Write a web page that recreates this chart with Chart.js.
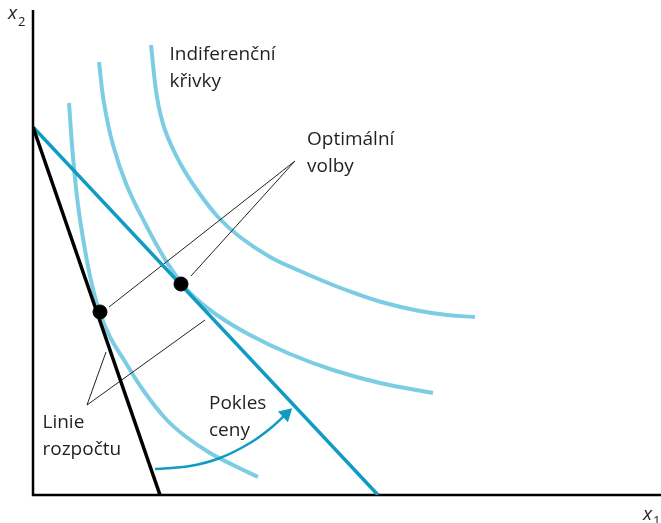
<!DOCTYPE html>
<html>
<head>
<meta charset="utf-8">
<script src="https://cdn.jsdelivr.net/npm/chart.js@4.4.0/dist/chart.umd.min.js"></script>
<style>
  html, body { margin: 0; padding: 0; background: #fff; }
  #wrap { width: 661px; height: 523px; }
</style>
</head>
<body>
<div id="wrap"><canvas id="grafica" width="661" height="523"></canvas></div>
<script>
// indiferenční křivky [x1, x2]
const krivka1 = [[3.6, 39.2], [4.0, 33.8], [4.5, 29.0], [5.2, 24.5], [5.9, 21.0], [6.65, 18.3], [7.7, 15.8], [9.1, 13.5], [11.0, 10.5], [13.2, 7.7], [15.2, 5.9], [17.7, 4.2], [20.0, 3.0], [22.5, 1.8]];
const krivka2 = [[6.6, 43.3], [7.1, 39.2], [8.0, 35.0], [9.4, 30.9], [11.3, 27.0], [13.5, 23.1], [15.7, 20.2], [18.4, 18.0], [21.7, 16.0], [25.7, 14.1], [30.0, 12.5], [34.7, 11.2], [40.0, 10.2]];
const krivka3 = [[11.8, 45.0], [12.4, 39.8], [13.2, 36.5], [14.7, 33.2], [16.4, 30.5], [18.5, 27.8], [20.7, 25.8], [23.7, 23.8], [26.7, 22.4], [30.0, 21.0], [32.7, 20.0], [35.4, 19.15], [38.4, 18.45], [41.4, 18.0], [44.2, 17.8]];

// linie rozpočtu
const rozpocetPuvodni = [[0, 36.8], [12.7, 0]];
const rozpocetNovy = [[0, 36.8], [34.5, 0]];

// optimální volby
const optima = [[6.7, 18.3], [14.8, 21.1]];

// odkazové čáry k popiskům
const odkazOptima = [[7.6, 18.8], [26.2, 33.4], [15.8, 21.9]];
const odkazRozpocet = [[7.3, 14.3], [5.4, 9.0], [17.2, 17.5]];

// šipka "Pokles ceny"
const sipka = [[12.2, 2.6], [15.7, 2.9], [18.7, 3.7], [21.7, 5.2], [23.9, 6.8], [25.3, 8.1]];

const svetleModra = '#7ccde3';
const modra = '#0f9bc4';
const textBarva = '#231f20';

function body(arr) {
  return arr.map(p => ({ x: p[0], y: p[1] }));
}

function krivka(arr, barva, sirka, napeti) {
  return {
    data: body(arr),
    showLine: true,
    borderColor: barva,
    borderWidth: sirka,
    pointRadius: 0,
    fill: false,
    tension: napeti || 0,
    borderCapStyle: 'butt'
  };
}

const popisky = {
  id: 'popisky',
  beforeDatasetsDraw(chart) {
    const ctx = chart.ctx;
    const a = chart.chartArea;
    ctx.save();
    ctx.strokeStyle = '#000';
    ctx.lineWidth = 2.5;
    ctx.beginPath();
    ctx.moveTo(a.left, a.top);
    ctx.lineTo(a.left, a.bottom);
    ctx.lineTo(a.right, a.bottom);
    ctx.stroke();
    ctx.restore();
  },
  afterDraw(chart) {
    const ctx = chart.ctx;
    const sx = chart.scales.x;
    const sy = chart.scales.y;
    const a = chart.chartArea;
    ctx.save();
    ctx.fillStyle = textBarva;
    ctx.font = '19px "Open Sans"';
    ctx.textBaseline = 'alphabetic';
    ctx.textAlign = 'left';
    const t = (s, x, y) => ctx.fillText(s, sx.getPixelForValue(x), sy.getPixelForValue(y));
    t('Indiferenční', 13.65, 43.5);
    t('křivky', 13.65, 40.8);
    t('Optimální', 27.4, 35.0);
    t('volby', 27.4, 32.3);
    t('Linie', 0.95, 6.7);
    t('rozpočtu', 0.95, 4.0);
    t('Pokles', 17.6, 8.6);
    t('ceny', 17.6, 5.9);

    // popisky os
    ctx.font = 'italic 19px "Open Sans"';
    ctx.fillText('x', a.left - 25, a.top + 9);
    ctx.fillText('x', a.right - 18, a.bottom + 25);
    ctx.font = '13px "Open Sans"';
    ctx.fillText('2', a.left - 15, a.top + 16);
    ctx.fillText('1', a.right - 8, a.bottom + 30);
    ctx.restore();
  }
};

new Chart(document.getElementById('grafica'), {
  type: 'scatter',
  data: {
    datasets: [
      {
        data: body(optima),
        backgroundColor: '#000',
        borderColor: '#000',
        pointRadius: 7,
        pointHoverRadius: 7
      },
      {
        data: body(sipka),
        showLine: true,
        borderColor: modra,
        backgroundColor: modra,
        borderWidth: 2.5,
        tension: 0.4,
        pointStyle: 'triangle',
        pointRadius: sipka.map((p, i) => i === sipka.length - 1 ? 6 : 0),
        pointRotation: 47
      },
      krivka(rozpocetPuvodni, '#000', 3.5),
      krivka(rozpocetNovy, modra, 3.5),
      krivka(odkazOptima, '#222', 1),
      krivka(odkazRozpocet, '#222', 1),
      krivka(krivka1, svetleModra, 4, 0.4),
      krivka(krivka2, svetleModra, 4, 0.4),
      krivka(krivka3, svetleModra, 4, 0.4)
    ]
  },
  options: {
    responsive: false,
    maintainAspectRatio: false,
    animation: false,
    layout: { autoPadding: false, padding: { left: 33, top: 10, right: 0, bottom: 28 } },
    plugins: {
      legend: { display: false },
      tooltip: { enabled: false }
    },
    scales: {
      x: { type: 'linear', min: 0, max: 62.8, display: false },
      y: { type: 'linear', min: 0, max: 48.5, display: false }
    }
  },
  plugins: [popisky]
});
</script>
</body>
</html>
